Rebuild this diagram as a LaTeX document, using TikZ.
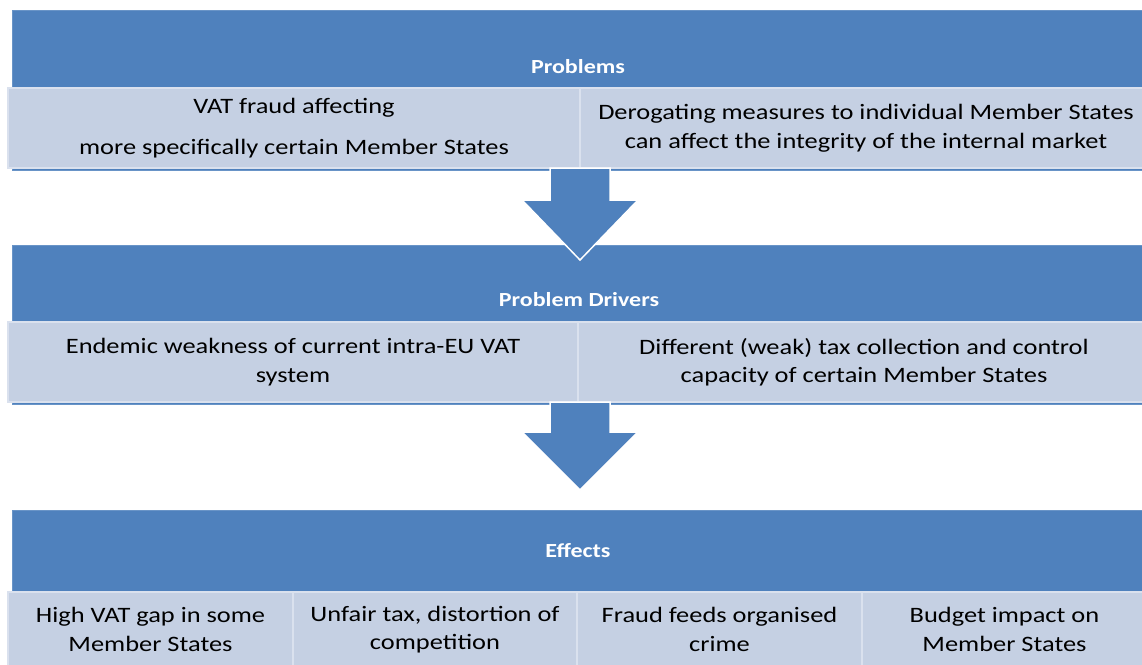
\documentclass[tikz,border=0pt]{standalone}
\usepackage{fontspec}
\setmainfont{Carlito}[FakeStretch=1.2]
\usetikzlibrary{positioning,calc}

\definecolor{bandblue}{HTML}{4F81BD}
\definecolor{cellfill}{HTML}{C5D0E3}
\definecolor{celledge}{HTML}{DAE1EE}

\begin{document}
\begin{tikzpicture}[x=1pt,y=-1pt,
        band/.style={
            fill=bandblue,
            draw=bandblue!85!white,
            minimum width=1136pt,
            inner sep=0pt,
            outer sep=0pt,
            anchor=north west
        },
        title/.style={
            text=white,
            font=\bfseries\fontsize{20}{24}\selectfont
        },
        cell/.style={
            fill=cellfill,
            draw=celledge,
            line width=1.5pt,
            minimum height=80pt,
            inner sep=0pt,
            outer sep=0pt,
            align=center,
            anchor=north west,
            font=\fontsize{22}{28.5}\selectfont
        },
        blockarrow/.style={
            fill=bandblue,
            draw=white,
            line width=1.5pt
        }
    ]
        \fill[white] (0,0) rectangle (1142,664);
        \useasboundingbox (0,0) rectangle (1142,664);

        % Problems
        \node[band, minimum height=160pt] (pband) at (12,10) {};
        \node[title] (ptitle) at (578,67) {Problems};
        \node[cell, minimum width=572pt] (p1) at (8,88)
            {VAT fraud affecting\\[12pt]more specifically certain Member States};
        \node[cell, minimum width=572pt, right=0pt of p1] (p2)
            {Derogating measures to individual Member States\\can affect the integrity of the internal market};

        % Problem Drivers
        \node[band, minimum height=159pt] (dband) at (12,245) {};
        \node[title] (dtitle) at (579,300) {Problem Drivers};
        \node[cell, minimum width=570pt] (d1) at (8,322)
            {Endemic weakness of current intra-EU VAT\\system};
        \node[cell, minimum width=572pt, right=0pt of d1] (d2)
            {Different (weak) tax collection and control\\capacity of certain Member States};

        % Effects
        \node[band, minimum height=170pt] (eband) at (12,510) {};
        \node[title] (etitle) at (578,551) {Effects};
        \node[cell, minimum width=285pt, minimum height=75pt] (e1) at (8,592)
            {High VAT gap in some\\Member States};
        \node[cell, minimum width=284pt, minimum height=75pt, right=0pt of e1] (e2)
            {Unfair tax, distortion of\\competition};
        \node[cell, minimum width=285pt, minimum height=75pt, right=0pt of e2] (e3)
            {Fraud feeds organised\\crime};
        \node[cell, minimum width=285pt, minimum height=75pt, right=0pt of e3] (e4)
            {Budget impact on\\Member States};

        % arrows between the blocks
        \coordinate (a1) at ($(p1.south east)+(-30,0)$);
        \draw[blockarrow] (a1) -- ++(60,0) -- ++(0,32) -- ++(28,0)
            -- ++(-58,60) -- ++(-58,-60) -- ++(28,0) -- cycle;
        \coordinate (a2) at ($(d1.south east)+(-28,0)$);
        \draw[blockarrow] (a2) -- ++(60,0) -- ++(0,30) -- ++(28,0)
            -- ++(-58,58) -- ++(-58,-58) -- ++(28,0) -- cycle;
\end{tikzpicture}
\end{document}
